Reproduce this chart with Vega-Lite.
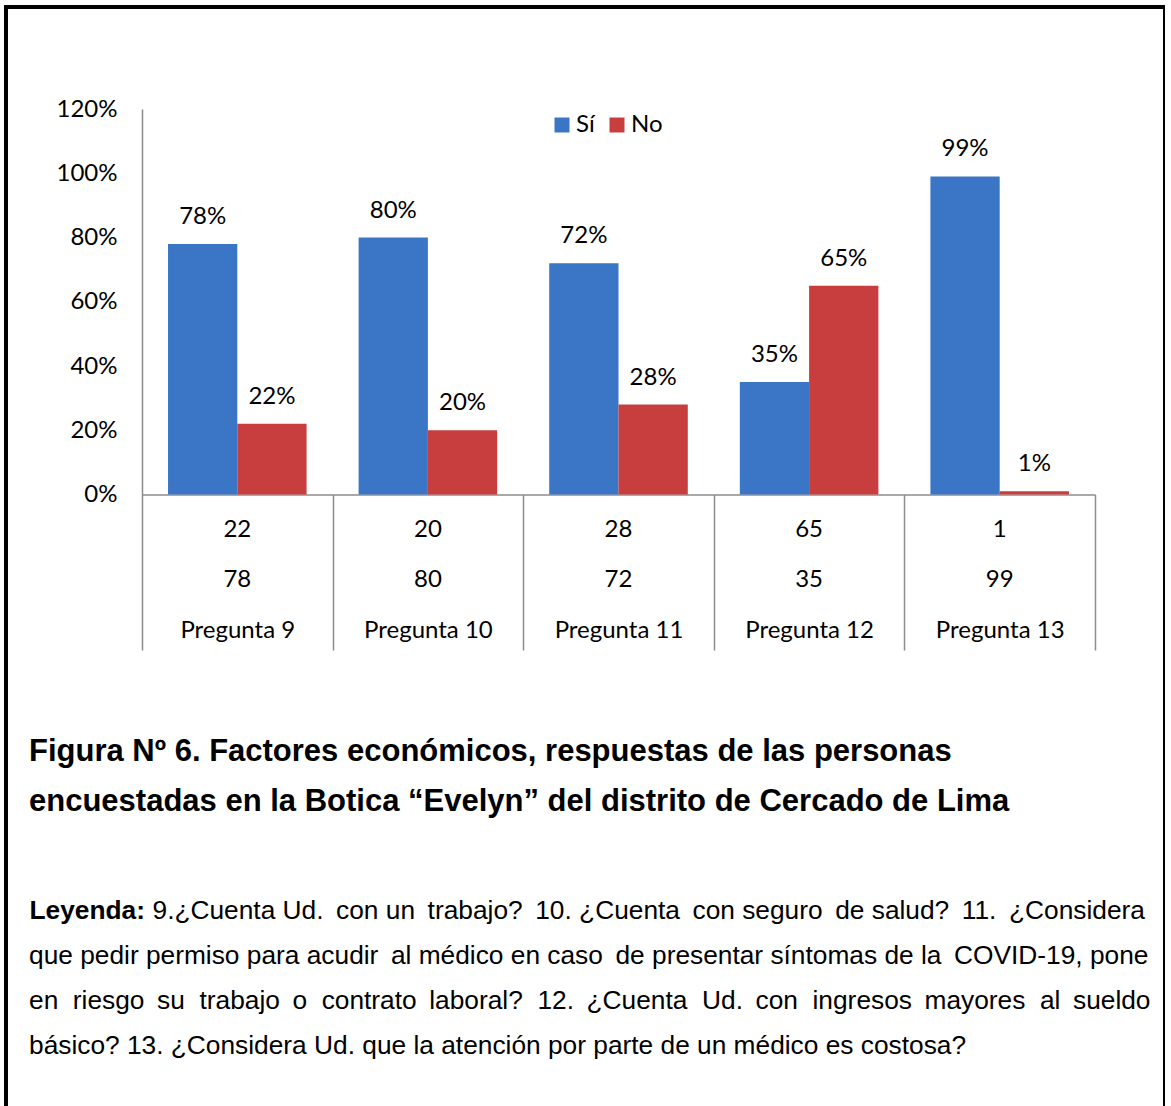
{
  "$schema": "https://vega.github.io/schema/vega-lite/v6.json",
  "width": 1159,
  "height": 1110,
  "autosize": {"type": "none"},
  "padding": {"left": 6, "top": 7, "right": 0, "bottom": 0},
  "background": "white",
  "config": {
    "view": {"stroke": "black", "strokeWidth": 4},
    "font": "Lato",
    "text": {"font": "Lato", "fontSize": 24, "color": "black"}
  },
  "datasets": {
    "respuestas": [
      {"pregunta": "Pregunta 9", "respuesta": "Sí", "porcentaje": 78},
      {"pregunta": "Pregunta 9", "respuesta": "No", "porcentaje": 22},
      {"pregunta": "Pregunta 10", "respuesta": "Sí", "porcentaje": 80},
      {"pregunta": "Pregunta 10", "respuesta": "No", "porcentaje": 20},
      {"pregunta": "Pregunta 11", "respuesta": "Sí", "porcentaje": 72},
      {"pregunta": "Pregunta 11", "respuesta": "No", "porcentaje": 28},
      {"pregunta": "Pregunta 12", "respuesta": "Sí", "porcentaje": 35},
      {"pregunta": "Pregunta 12", "respuesta": "No", "porcentaje": 65},
      {"pregunta": "Pregunta 13", "respuesta": "Sí", "porcentaje": 99},
      {"pregunta": "Pregunta 13", "respuesta": "No", "porcentaje": 1}
    ]
  },
  "title": {
    "text": [
      "Figura Nº 6. Factores económicos, respuestas de las personas",
      "encuestadas en la Botica “Evelyn” del distrito de Cercado de Lima"
    ],
    "subtitle": [
      "que pedir permiso para acudir \u2009al médico en caso \u2009de presentar síntomas de la \u2009COVID-19, pone",
      "en \u00a0riesgo \u2009su \u00a0trabajo \u2009o \u00a0contrato \u2009laboral? \u00a012. \u2009¿Cuenta \u00a0Ud. \u2009con \u00a0ingresos \u2009mayores \u00a0al \u2009sueldo",
      "básico? 13. ¿Considera Ud. que la atención por parte de un médico es costosa?"
    ],
    "orient": "bottom",
    "anchor": "start",
    "frame": "group",
    "baseline": "top",
    "offset": -380,
    "dx": 23,
    "font": "Liberation Sans",
    "fontSize": 31,
    "fontWeight": "bold",
    "color": "black",
    "lineHeight": 50,
    "subtitleFont": "Liberation Sans",
    "subtitleFontSize": 26.3,
    "subtitleFontWeight": "normal",
    "subtitleColor": "black",
    "subtitleLineHeight": 45,
    "subtitlePadding": 125
  },
  "layer": [
    {
      "data": {"name": "respuestas"},
      "encoding": {
        "x": {
          "field": "pregunta",
          "type": "nominal",
          "sort": ["Pregunta 9", "Pregunta 10", "Pregunta 11", "Pregunta 12", "Pregunta 13"],
          "scale": {"range": [136, 1089], "paddingInner": 0.273, "paddingOuter": 0.1365},
          "axis": {
            "orient": "bottom",
            "offset": 0,
            "domain": false,
            "labels": false,
            "ticks": false,
            "grid": false,
            "title": "9.¿Cuenta Ud. \u2009con un \u2009trabajo? \u200910. ¿Cuenta \u2009con seguro \u2009de salud? \u200911. \u2009¿Considera",
            "titleX": 146,
            "titleY": -199,
            "titleAngle": 0,
            "titleAlign": "left",
            "titleAnchor": null,
            "titleBaseline": "alphabetic",
            "titleFont": "Liberation Sans",
            "titleFontSize": 26.3,
            "titleFontWeight": "normal",
            "titleColor": "black",
            "titleLimit": 2000
          }
        },
        "xOffset": {
          "field": "respuesta",
          "type": "nominal",
          "sort": ["Sí", "No"],
          "scale": {"domain": ["Sí", "No"], "paddingInner": 0, "paddingOuter": 0}
        },
        "y": {
          "field": "porcentaje",
          "type": "quantitative",
          "scale": {"domain": [0, 120], "range": [487.5, 102], "nice": false},
          "axis": {
            "orient": "left",
            "offset": -136,
            "values": [0, 20, 40, 60, 80, 100, 120],
            "labelExpr": "datum.value + '%'",
            "ticks": false,
            "tickSize": 0,
            "grid": false,
            "domainColor": "#8c8c8c",
            "domainWidth": 1.5,
            "labelFont": "Lato",
            "labelFontSize": 24,
            "labelColor": "black",
            "labelPadding": 25,
            "title": null
          }
        }
      },
      "layer": [
        {
          "mark": {"type": "bar", "strokeWidth": 0},
          "encoding": {
            "color": {
              "field": "respuesta",
              "type": "nominal",
              "scale": {"domain": ["Sí", "No"], "range": ["#3b75c6", "#c83e3e"]},
              "legend": {
                "orient": "none",
                "legendX": 544,
                "legendY": 106,
                "direction": "horizontal",
                "title": null,
                "padding": 0,
                "symbolType": "square",
                "symbolSize": 225,
                "symbolStrokeWidth": 0,
                "labelFont": "Lato",
                "labelFontSize": 24,
                "labelColor": "black",
                "labelOffset": 2,
                "columnPadding": 10
              }
            }
          }
        },
        {
          "mark": {"type": "text", "baseline": "middle", "dy": -27, "fontSize": 24, "text": {"expr": "datum.porcentaje + '%'"}}
        }
      ]
    },
    {
      "data": {"name": "respuestas"},
      "mark": {"type": "text", "baseline": "middle", "fontSize": 24},
      "encoding": {
        "x": {
          "field": "pregunta",
          "type": "nominal",
          "sort": ["Pregunta 9", "Pregunta 10", "Pregunta 11", "Pregunta 12", "Pregunta 13"],
          "scale": {"range": [136, 1089], "padding": 0},
          "axis": {
            "orient": "bottom",
            "offset": -622.5,
            "tickBand": "extent",
            "tickSize": 155.5,
            "tickColor": "#8c8c8c",
            "tickWidth": 1.5,
            "domainColor": "#8c8c8c",
            "domainWidth": 1.5,
            "labelAngle": 0,
            "labelFont": "Lato",
            "labelFontSize": 24,
            "labelColor": "black",
            "labelBaseline": "middle",
            "labelPadding": -20,
            "grid": false,
            "title": null
          }
        },
        "y": {
          "field": "respuesta",
          "type": "nominal",
          "scale": {"type": "point", "domain": ["No", "Sí"], "range": [523, 573], "padding": 0},
          "axis": {
            "orient": "left",
            "offset": 0,
            "domain": false,
            "labels": false,
            "ticks": false,
            "grid": false,
            "title": "Leyenda:",
            "titleAngle": 0,
            "titleX": 23,
            "titleY": 911,
            "titleAlign": "left",
            "titleBaseline": "alphabetic",
            "titleFont": "Liberation Sans",
            "titleFontSize": 26.3,
            "titleFontWeight": "bold",
            "titleColor": "black"
          }
        },
        "text": {"field": "porcentaje", "type": "quantitative"}
      }
    }
  ],
  "resolve": {"scale": {"x": "independent", "y": "independent"}}
}
